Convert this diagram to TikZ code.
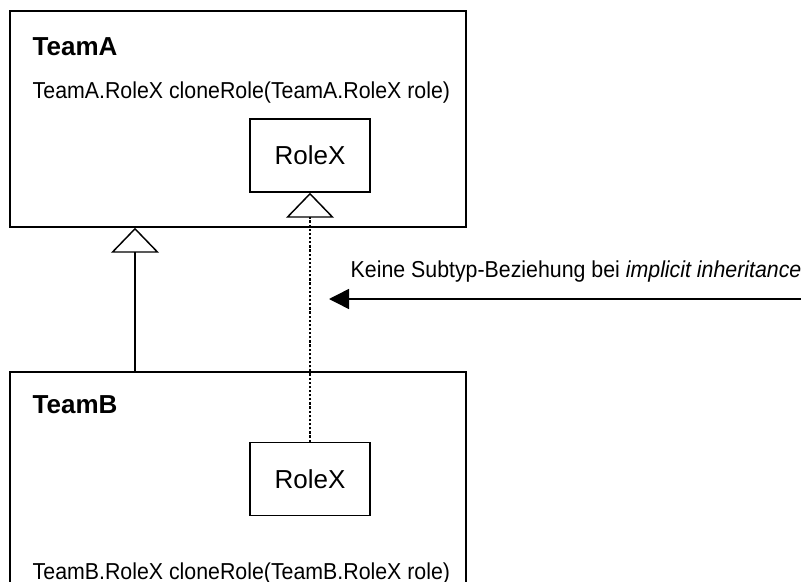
\documentclass[tikz,border=0pt]{standalone}
\usepackage{fontspec}
\setmainfont{Liberation Sans}
\usetikzlibrary{arrows.meta}
\newcommand{\tallish}[1]{\scalebox{1}[1.08]{#1}}
\begin{document}
\begin{tikzpicture}[x=0.75pt,y=-0.75pt,
  line width=1.1pt,
  teambox/.style={draw, rectangle, minimum width=342pt, inner sep=0pt},
  rolebox/.style={draw, rectangle, minimum width=90pt, minimum height=54.75pt,
    inner sep=0pt, font=\fontsize{19.5pt}{22pt}\selectfont},
  title/.style={anchor=base west, inner sep=0pt, font=\fontsize{19.5pt}{22pt}\selectfont\bfseries},
  method/.style={anchor=base west, inner sep=0pt, font=\fontsize{16pt}{19pt}\selectfont},
  inherit/.style={-{Triangle[open, width=36pt, length=18.75pt, line width=1.1pt]}},
  implicit/.style={inherit, line width=2.2pt, dash pattern=on 1.7pt off 1.4pt},
  note/.style={-{Triangle[width=15pt, length=15pt]}}
]
\clip (0,0) rectangle (801,582);

% team containers
\node[teambox, minimum height=162pt] (teamA) at (238,119) {};
\node[teambox, minimum height=171pt] (teamB) at (238,486) {};

\node[title] (titleA) at (32,55) {TeamA};
\node[method] (methA) at (32,98) {\tallish{TeamA.RoleX cloneRole(TeamA.RoleX role)}};
\node[title] (titleB) at (32,413) {TeamB};
\node[method] (methB) at (32,579) {\tallish{TeamB.RoleX cloneRole(TeamB.RoleX role)}};

% role classes
\node[rolebox] (roleA) at (310,155.5) {RoleX};
\node[rolebox] (roleB) at (310,479) {RoleX};

% team inheritance
\coordinate (gx) at (135,0);
\draw[inherit] (gx |- teamB.north) -- (gx |- teamA.south);

% implicit role inheritance
\draw[implicit] (roleB.north) -- (roleA.south);

% annotation arrow
\coordinate (src) at (801,299);
\coordinate (tgt) at (329,299);
\draw[note] (src) -- (tgt);
\node[method] (lbl) at (350,277) {\tallish{Keine Subtyp-Beziehung bei \textit{implicit inheritance}}};
\end{tikzpicture}
\end{document}
